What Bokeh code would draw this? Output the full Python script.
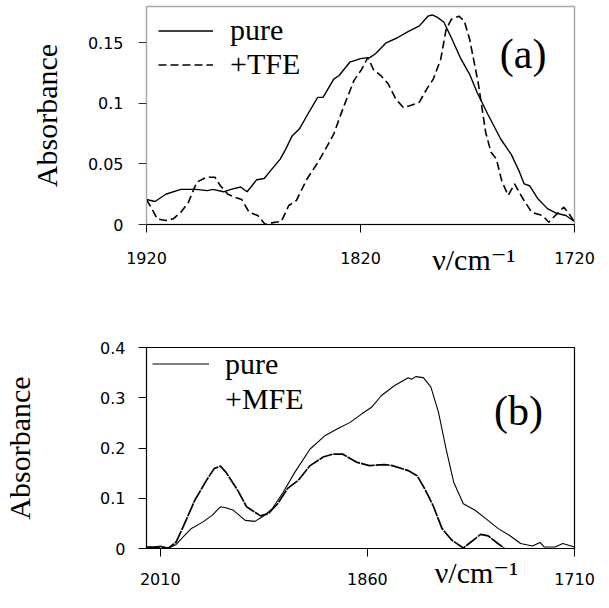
from bokeh.plotting import figure
from bokeh.layouts import column
from bokeh.models import (Range1d, FixedTicker, NumeralTickFormatter, Legend,
                          LegendItem, Label, LinearAxis)
from bokeh.embed import file_html
from bokeh.resources import INLINE

# ---------------- panel (a) data ----------------
wn_a_pure = [1920, 1916, 1911, 1904, 1897, 1891.5, 1889, 1884, 1880.5, 1876,
             1873, 1868.5, 1865, 1862, 1857.5, 1855, 1852, 1848.5, 1845, 1840,
             1837.5, 1832.5, 1830, 1825, 1820, 1815.5, 1813, 1808, 1803, 1798,
             1792.5, 1788.5, 1786.5, 1784, 1781, 1777.5, 1773, 1769, 1765.5, 1760.5,
             1754.5, 1749.5, 1746, 1743.5, 1741, 1737, 1732.5, 1728.5, 1724, 1720]
abs_a_pure = [.0206, .019, .025, .029, .029, .028, .029, .027, .029, .031,
              .027, .037, .038, .0445, .054, .062, .073, .079, .090, .105,
              .105, .120, .123, .134, .137, .138, .141, .150, .154, .159,
              .164, .172, .173, .171, .167, .154, .1365, .124, .109, .091,
              .0706, .0577, .0445, .0335, .032, .021, .0129, .0093, .0074, .0025]

wn_a_tfe = [1920, 1917.5, 1915, 1911, 1907.5, 1904, 1900.5, 1896.5, 1892, 1888,
            1885.5, 1882, 1878, 1875.5, 1872, 1868, 1864.5, 1860, 1857, 1853.5,
            1850, 1845, 1840, 1835.5, 1832.5, 1828, 1823, 1819.5, 1816.5, 1814,
            1810.5, 1807, 1803.5, 1800, 1797, 1792.5, 1789, 1786, 1782.5, 1780,
            1777.5, 1774, 1771.5, 1769, 1765, 1761.5, 1759, 1756.5, 1754, 1751,
            1748, 1744.5, 1740, 1735, 1732, 1729, 1725, 1722.5, 1720]
abs_a_tfe = [.0206, .013, .0047, .0033, .0047, .010, .018, .035, .039, .039,
             .032, .025, .022, .0206, .010, .0074, 0, .0019, .0025, .0157,
             .0198, .0376, .051, .065, .0747, .0967, .119, .128, .138, .128,
             .123, .116, .1036, .0967, .098, .101, .112, .120, .1365, .161,
             .1695, .172, .168, .153, .117, .076, .0596, .054, .036, .024,
             .0335, .0225, .010, .0074, .0019, .0074, .0143, .0088, .0019]

# ---------------- panel (b) data ----------------
wn_b_pure = [2020, 2015, 2010, 2004, 1998.5, 1994.5, 1987.5, 1979, 1972.5, 1966.5,
             1962.5, 1957, 1948.5, 1941.5, 1936, 1929, 1921, 1912.5, 1901.5, 1890.5,
             1882, 1872.5, 1864, 1857, 1850, 1840.5, 1830.5, 1828, 1825, 1819.5,
             1814, 1808.5, 1803, 1797.5, 1790.5, 1782, 1774, 1765.5, 1757, 1749,
             1740.5, 1735, 1732, 1724, 1718.5, 1710]
abs_b_pure = [.003, .003, .005, .001, .008, .020, .040, .053, .066, .083,
              .081, .076, .056, .054, .063, .079, .112, .152, .198, .225,
              .238, .251, .268, .281, .304, .324, .340, .337, .342, .340,
              .321, .271, .198, .132, .089, .076, .059, .040, .026, .010,
              .005, .012, .003, .003, .010, .003]

wn_b_mfe = [2020, 2004, 1998.5, 1993, 1985, 1976.5, 1971, 1966.5, 1962.5, 1954,
            1947.5, 1937.5, 1932, 1925, 1918, 1910, 1901.5, 1892, 1885, 1878,
            1868, 1858.5, 1847.5, 1842, 1830.5, 1824, 1818.5, 1812.5, 1806, 1799,
            1790.5, 1785, 1778, 1772.5, 1765.5, 1761]
abs_b_mfe = [.003, .001, .013, .046, .096, .136, .159, .164, .152, .116,
             .083, .065, .069, .089, .119, .136, .165, .182, .188, .188,
             .172, .165, .167, .165, .155, .145, .119, .086, .040, .017,
             .001, .013, .028, .025, .010, .001]

ticks_a_x = [1920, 1820, 1720]
ticks_a_y = [0, 0.05, 0.1, 0.15]
ticks_b_x = [2010, 1860, 1710]
ticks_b_y = [0, 0.1, 0.2, 0.3, 0.4]
unit_text = "ν/cm⁻¹"

SERIF = "'Liberation Serif', 'DejaVu Serif', serif"
SANS = "DejaVu Sans"
TICK_SIZE = "16px"


def style_axes(p, axis_gray):
    p.xgrid.visible = False
    p.ygrid.visible = False
    for ax in (p.xaxis[0], p.yaxis[0]):
        ax.minor_tick_line_color = None
        ax.major_tick_in = 0
        ax.major_tick_out = 8
        ax.major_label_text_font = SANS
        ax.major_label_text_font_size = TICK_SIZE
        ax.major_label_text_color = "black"
        ax.axis_label_text_font = SERIF
        ax.axis_label_text_font_style = "normal"
        ax.axis_label_text_font_size = "30px"
        ax.axis_label_text_color = "black"
    p.xaxis.axis_line_color = "black"
    p.xaxis.major_tick_line_color = "black"
    p.yaxis.axis_line_color = axis_gray
    p.yaxis.major_tick_line_color = "#333333" if axis_gray != "black" else "black"
    p.background_fill_color = "white"
    p.border_fill_color = "white"


def unit_axis(p, tick, standoff):
    # wavenumber unit written below the axis, at the position of the reference
    ax = LinearAxis(ticker=FixedTicker(ticks=[tick]),
                    major_label_overrides={tick: unit_text})
    ax.axis_line_color = None
    ax.major_tick_line_color = None
    ax.minor_tick_line_color = None
    ax.major_tick_in = 0
    ax.major_tick_out = 0
    ax.major_label_standoff = standoff
    ax.major_label_text_font = SERIF
    ax.major_label_text_font_size = "30px"
    ax.major_label_text_color = "black"
    p.add_layout(ax, "below")


# ---------------- panel (a) ----------------
p1 = figure(width=600, height=280, x_range=Range1d(1920, 1720), y_range=Range1d(0, 0.18),
            output_backend="svg", toolbar_location=None,
            min_border_left=115, min_border_right=26, min_border_top=6, min_border_bottom=56)
style_axes(p1, "#aaaaaa")
p1.outline_line_color = "#aaaaaa"
p1.outline_line_width = 1.5
p1.xaxis.ticker = FixedTicker(ticks=ticks_a_x)
p1.yaxis.ticker = FixedTicker(ticks=ticks_a_y)
p1.yaxis.formatter = NumeralTickFormatter(format="0.[00]")
p1.xaxis.major_label_standoff = 19
p1.yaxis.major_label_standoff = 15
p1.yaxis.axis_label = "Absorbance"
p1.yaxis.axis_label_standoff = 22
unit_axis(p1, 1767, -24)

ra1 = p1.line(wn_a_pure, abs_a_pure, line_color="black", line_width=1.4)
ra2 = p1.line(wn_a_tfe, abs_a_tfe, line_color="black", line_width=1.6, line_dash="8 4")

leg_a = Legend(items=[LegendItem(label="pure", renderers=[ra1]),
                      LegendItem(label="+TFE", renderers=[ra2])],
               location=(12, 143), orientation="vertical", glyph_width=55, glyph_height=33,
               label_height=33, label_standoff=17, spacing=0, padding=0, margin=0,
               border_line_alpha=0, background_fill_alpha=0,
               label_text_font=SERIF, label_text_font_size="30px", label_text_color="black")
p1.add_layout(leg_a)

p1.add_layout(Label(x=1744, y=0.1405, text="(a)", text_font=SERIF, text_font_size="42px",
                    text_align="center", text_baseline="middle", text_color="black"))

# ---------------- panel (b) ----------------
p2 = figure(width=600, height=312, x_range=Range1d(2020, 1710), y_range=Range1d(0, 0.4),
            output_backend="svg", toolbar_location=None,
            min_border_left=141, min_border_right=25, min_border_top=67, min_border_bottom=44)
style_axes(p2, "black")
p2.outline_line_color = "black"
p2.outline_line_width = 1.2
p2.xaxis.ticker = FixedTicker(ticks=ticks_b_x)
p2.yaxis.ticker = FixedTicker(ticks=ticks_b_y)
p2.yaxis.formatter = NumeralTickFormatter(format="0.[0]")
p2.xaxis.major_label_standoff = 16
p2.yaxis.major_label_standoff = 13
p2.yaxis.axis_label = "Absorbance"
p2.yaxis.axis_label_standoff = 61
unit_axis(p2, 1781, -32)

rb1 = p2.line(wn_b_pure, abs_b_pure, line_color="black", line_width=1.1)
rb2 = p2.line(wn_b_mfe, abs_b_mfe, line_color="black", line_width=1.7, line_dash="14 1")
rb2_key = p2.line(x=[], y=[], line_color="black", line_width=1.3, line_dash="8 3")

leg_b = Legend(items=[LegendItem(label="pure", renderers=[rb1]),
                      LegendItem(label="+MFE", renderers=[rb2_key])],
               location=(6, 132), orientation="vertical", glyph_width=57, glyph_height=35,
               label_height=35, label_standoff=16, spacing=0, padding=0, margin=0,
               border_line_alpha=0, background_fill_alpha=0,
               label_text_font=SERIF, label_text_font_size="30px", label_text_color="black")
p2.add_layout(leg_b)

p2.add_layout(Label(x=1750.5, y=0.273, text="(b)", text_font=SERIF, text_font_size="42px",
                    text_align="center", text_baseline="middle", text_color="black"))

layout = column(p1, p2)
open("out.html", "w").write(file_html(layout, INLINE))
